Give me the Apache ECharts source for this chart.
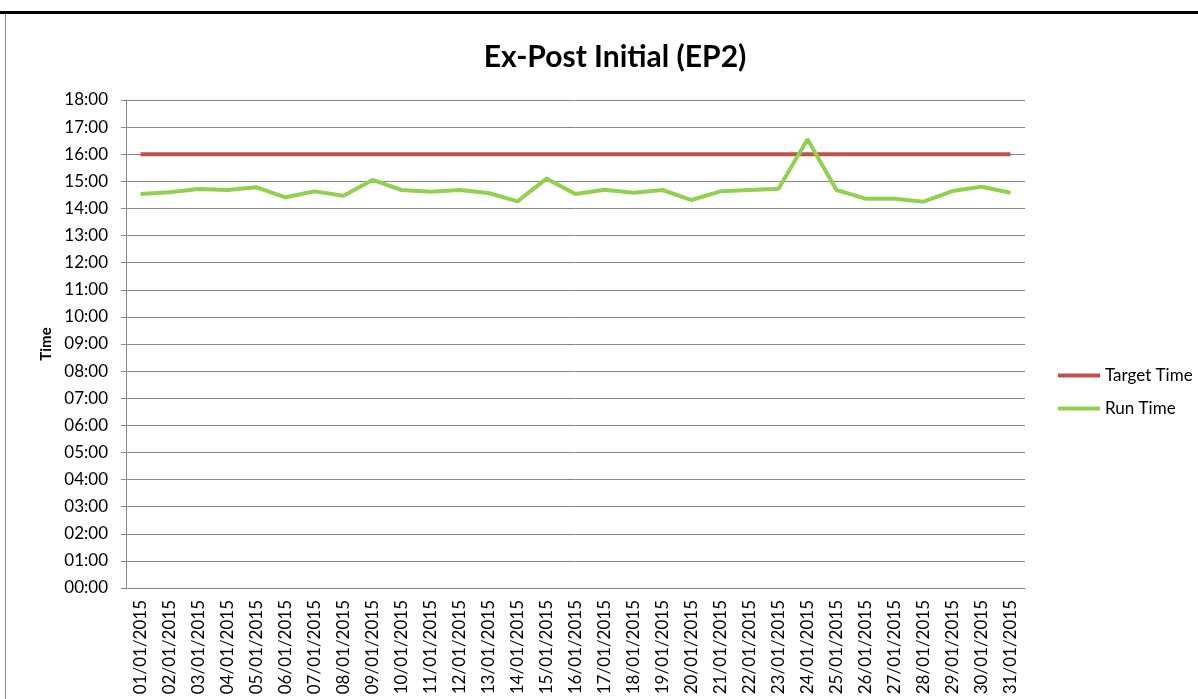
<!DOCTYPE html>
<html>
<head>
<meta charset="utf-8">
<script src="https://cdn.jsdelivr.net/npm/echarts@6/dist/echarts.min.js"></script>
<style>
  html, body { margin: 0; padding: 0; background: #fff; }
  #main { width: 1198px; height: 699px; }
</style>
</head>
<body>
<div id="main"></div>
<script>
// dates on the x axis
var days = [];
for (var d = 1; d <= 31; d++) {
  days.push((d < 10 ? '0' + d : '' + d) + '/01/2015');
}
// times in hours of the day
var targetTime = [16,16,16,16,16,16,16,16,16,16,16,16,16,16,16,16,16,16,16,16,16,16,16,16,16,16,16,16,16,16,16];
var runTime = [14.53,14.6,14.72,14.68,14.78,14.41,14.63,14.47,15.05,14.68,14.62,14.68,14.57,14.26,15.1,14.53,
               14.69,14.58,14.68,14.31,14.63,14.68,14.73,16.55,14.68,14.36,14.36,14.25,14.64,14.8,14.58];

var font = 'Lato, "Open Sans", sans-serif';

var myChart = echarts.init(document.getElementById('main'));
myChart.setOption({
  animation: false,
  textStyle: { fontFamily: font },
  title: {
    text: 'Ex-Post Initial (EP2)',
    left: 610,
    top: 37,
    textAlign: 'center',
    textStyle: { fontSize: 30, fontWeight: 'bold', color: '#000', fontFamily: font }
  },
  graphic: [
    { type: 'rect', shape: { x: 0, y: 11, width: 1198, height: 3 }, style: { fill: '#000' } },
    { type: 'rect', shape: { x: 5, y: 14, width: 1, height: 700 }, style: { fill: '#888' } }
  ],
  legend: {
    orient: 'vertical',
    left: 1053,
    top: 362,
    itemWidth: 42,
    itemHeight: 4,
    itemGap: 16,
    icon: 'rect',
    textStyle: { fontSize: 17, color: '#000', fontFamily: font },
    data: ['Target Time', 'Run Time']
  },
  grid: { left: 126, right: 173, top: 100, bottom: 111 },
  xAxis: {
    type: 'category',
    data: days,
    boundaryGap: true,
    axisLine: { lineStyle: { color: '#868686' } },
    axisTick: { show: false },
    axisLabel: { rotate: 90, interval: 0, fontSize: 17, color: '#000', margin: 12, fontFamily: font }
  },
  yAxis: {
    type: 'value',
    min: 0,
    max: 18,
    interval: 1,
    name: 'Time',
    nameLocation: 'middle',
    nameRotate: 90,
    nameGap: 71,
    nameTextStyle: { fontSize: 15, fontWeight: 'bold', color: '#000', fontFamily: font },
    axisLine: { show: true, lineStyle: { color: '#868686' } },
    axisTick: { show: true, length: 5, lineStyle: { color: '#868686' } },
    axisLabel: {
      fontSize: 17, color: '#000', margin: 18, fontFamily: font,
      formatter: function (v) { return (v < 10 ? '0' + v : v) + ':00'; }
    },
    splitLine: { lineStyle: { color: '#868686', width: 1 } }
  },
  series: [
    {
      name: 'Target Time',
      type: 'line',
      data: targetTime,
      symbol: 'none',
      lineStyle: { color: '#C0504D', width: 4 },
      itemStyle: { color: '#C0504D' }
    },
    {
      name: 'Run Time',
      type: 'line',
      data: runTime,
      symbol: 'none',
      lineStyle: { color: '#92D050', width: 4 },
      itemStyle: { color: '#92D050' }
    }
  ]
});
</script>
</body>
</html>
